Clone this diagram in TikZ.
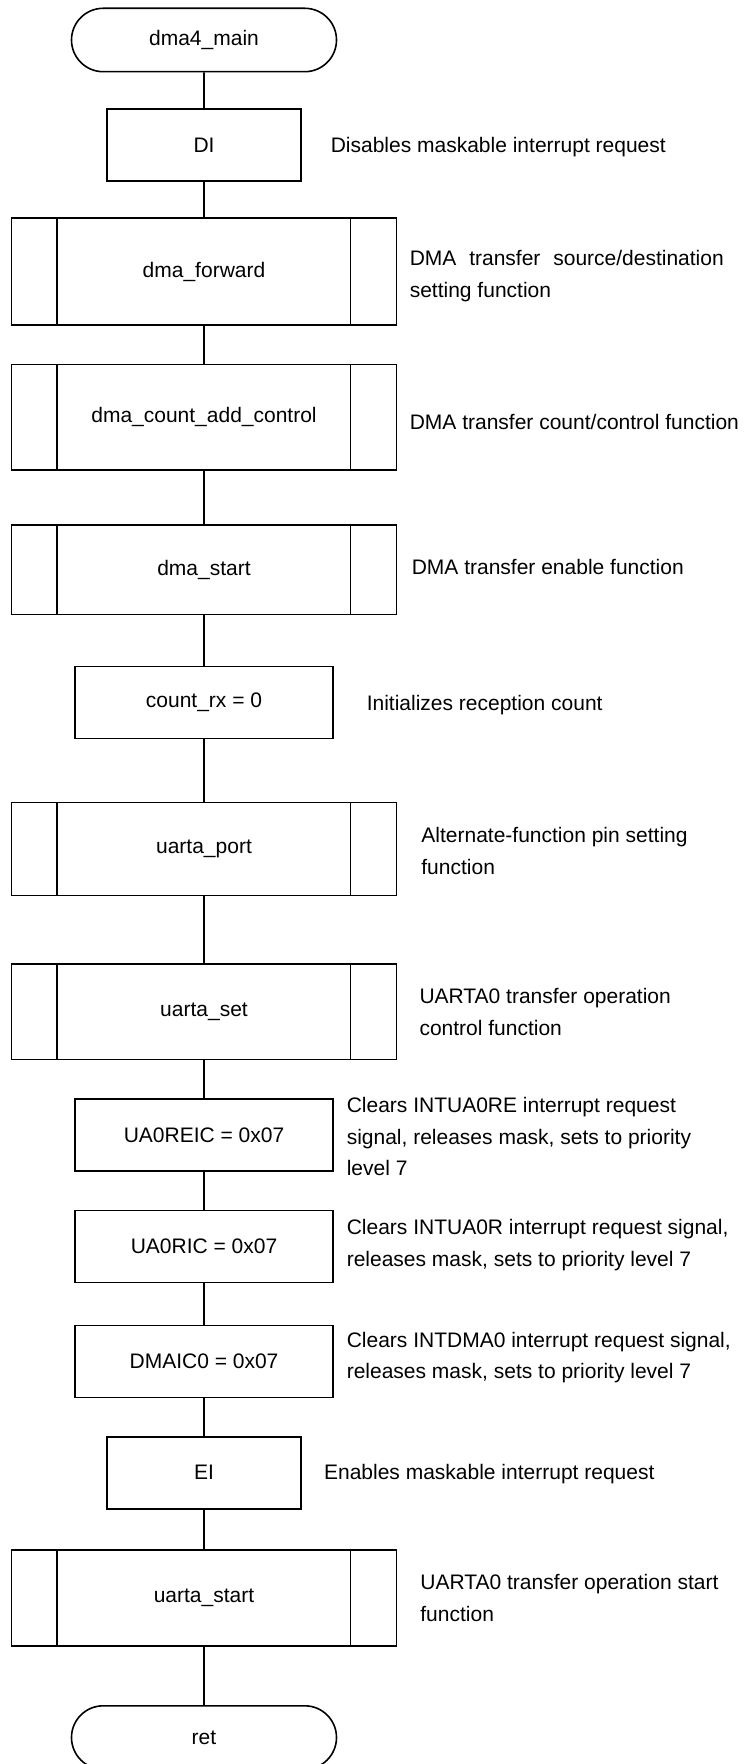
\documentclass[tikz,border=0pt]{standalone}
\usepackage{fontspec}
\setmainfont{Liberation Sans}
\usetikzlibrary{shapes.misc}
\begin{document}
\begin{tikzpicture}[x=0.5pt,y=-0.5pt,line width=0.8pt,font=\fontsize{10.5}{15.85}\selectfont]
        \tikzstyle{term}=[rounded rectangle,draw=black,minimum width=132.5pt,minimum height=31.7pt,inner sep=0pt]
        \tikzstyle{proc}=[rectangle,draw=black,minimum height=36pt,inner sep=0pt]
        \tikzstyle{subproc}=[rectangle,draw=black,minimum width=192.5pt,inner sep=0pt]
        \tikzstyle{note}=[anchor=west,align=left,inner sep=0pt]
        \tikzstyle{edge}=[draw]
        \useasboundingbox (0,0) rectangle (744,1764);

        % flow
        \node [term] (start) at (204,40) {dma4\_main};
        \node [proc,minimum width=96.8pt] (di) at (204,145) {DI};
        \node [subproc,minimum height=53.5pt] (fwd) at (204,271.7) {dma\_forward};
        \node [subproc,minimum height=52.8pt] (cnt) at (204,417.2) {dma\_count\_add\_control};
        \node [subproc,minimum height=44.6pt] (dst) at (204,569.7) {dma\_start};
        \node [proc,minimum width=129pt] (crx) at (204,702.5) {count\_rx = 0};
        \node [subproc,minimum height=46.5pt] (port) at (204,848.8) {uarta\_port};
        \node [subproc,minimum height=47.8pt] (uset) at (204,1011.5) {uarta\_set};
        \node [proc,minimum width=129pt] (reic) at (204,1134.8) {UA0REIC = 0x07};
        \node [proc,minimum width=129pt] (ric) at (204,1246.4) {UA0RIC = 0x07};
        \node [proc,minimum width=129pt] (dmaic) at (204,1361.5) {DMAIC0 = 0x07};
        \node [proc,minimum width=96.8pt] (ei) at (204,1472.7) {EI};
        \node [subproc,minimum height=47.8pt] (ustart) at (204,1597.9) {uarta\_start};
        \node [term] (ret) at (204,1737.5) {ret};

        % side bars of the function boxes
        \foreach \n in {fwd,cnt,dst,port,uset,ustart}
          \draw ([xshift=23pt]\n.north west) -- ([xshift=23pt]\n.south west)
                ([xshift=-23.5pt]\n.north east) -- ([xshift=-23.5pt]\n.south east);

        % comments
        \node [note] (cdi) at (330,146.7) {Disables maskable interrupt request};
        \node [note,text width=157pt,align=justify] (cfwd) at (409,276.3) {DMA transfer source/destination setting function};
        \node [note] (ccnt) at (409,422) {DMA transfer count/control function};
        \node [note] (cdst) at (411,567) {DMA transfer enable function};
        \node [note] (ccrx) at (366,705) {Initializes reception count};
        \node [note] (cport) at (420.6,851.2) {Alternate-function pin setting\\function};
        \node [note] (cuset) at (418.7,1012) {UARTA0 transfer operation\\control function};
        \node [note] (creic) at (346,1136.7) {Clears INTUA0RE interrupt request\\signal, releases mask, sets to priority\\level 7};
        \node [note] (cric) at (346,1245) {Clears INTUA0R interrupt request signal,\\releases mask, sets to priority level 7};
        \node [note] (cdmaic) at (346,1357.5) {Clears INTDMA0 interrupt request signal,\\releases mask, sets to priority level 7};
        \node [note] (cei) at (323.3,1474) {Enables maskable interrupt request};
        \node [note] (custart) at (419.6,1598.3) {UARTA0 transfer operation start\\function};

        \path[edge] (start) edge (di);
        \path[edge] (di) edge (fwd);
        \path[edge] (fwd) edge (cnt);
        \path[edge] (cnt) edge (dst);
        \path[edge] (dst) edge (crx);
        \path[edge] (crx) edge (port);
        \path[edge] (port) edge (uset);
        \path[edge] (uset) edge (reic);
        \path[edge] (reic) edge (ric);
        \path[edge] (ric) edge (dmaic);
        \path[edge] (dmaic) edge (ei);
        \path[edge] (ei) edge (ustart);
        \path[edge] (ustart) edge (ret);
\end{tikzpicture}
\end{document}
